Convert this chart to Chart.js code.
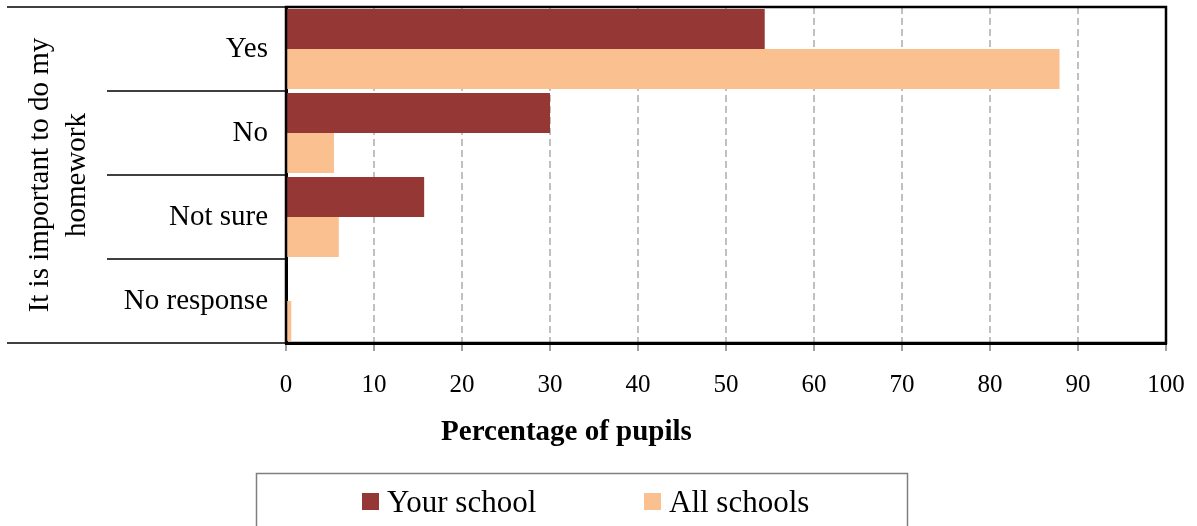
<!DOCTYPE html>
<html>
<head>
<meta charset="utf-8">
<script src="https://cdn.jsdelivr.net/npm/chart.js@4.4.1/dist/chart.umd.min.js"></script>
<style>
  html, body { margin: 0; padding: 0; background: #fff; }
  #wrap { width: 1197px; height: 526px; position: relative; }
</style>
</head>
<body>
<div id="wrap"><canvas id="chart"></canvas></div>
<script>
const categories = ["Yes", "No", "Not sure", "No response"];
const yourSchool = [54.4, 30.0, 15.7, 0];
const allSchools = [87.9, 5.45, 6.0, 0.6];
const xTicks = [0, 10, 20, 30, 40, 50, 60, 70, 80, 90, 100];
const yTitle = ["It is important to do my", "homework"];
const xTitle = "Percentage of pupils";

const SERIF = "'Liberation Serif', 'Times New Roman', serif";

// left-hand category dividers, frame around the plot, x title, boxed legend
const decorations = {
    id: "decorations",
    afterDatasetsDraw(chart) {
        const ctx = chart.ctx;
        const area = chart.chartArea;
        const y = chart.scales.y;
        const n = categories.length;

        ctx.save();
        ctx.strokeStyle = "#000";
        ctx.lineWidth = 1.5;
        for (let i = 0; i <= n; i++) {
            let py;
            if (i === 0) py = area.top;
            else if (i === n) py = area.bottom;
            else py = (y.getPixelForValue(i - 1) + y.getPixelForValue(i)) / 2;
            const x0 = (i === 0 || i === n) ? 7 : 107;
            ctx.beginPath();
            ctx.moveTo(x0, py);
            ctx.lineTo(area.left, py);
            ctx.stroke();
        }

        ctx.lineWidth = 2.5;
        ctx.strokeRect(area.left, area.top, area.right - area.left, area.bottom - area.top);
        ctx.restore();
    },
    afterDraw(chart) {
        const ctx = chart.ctx;
        ctx.save();

        // axis title sits left of the axis centre, like the original
        ctx.fillStyle = "#000";
        ctx.font = "bold 29px " + SERIF;
        ctx.textAlign = "center";
        ctx.textBaseline = "alphabetic";
        ctx.fillText(xTitle, 566.5, 440);

        ctx.strokeStyle = "#7f7f7f";
        ctx.lineWidth = 1.5;
        ctx.strokeRect(256.5, 473.5, 651, 80);

        const itemX = [362, 644];
        ctx.font = "31px " + SERIF;
        ctx.textAlign = "left";
        chart.data.datasets.forEach((ds, i) => {
            ctx.fillStyle = ds.backgroundColor;
            ctx.fillRect(itemX[i], 493, 17, 17);
            ctx.fillStyle = "#000";
            ctx.fillText(ds.label, itemX[i] + 25, 512);
        });
        ctx.restore();
    }
};

document.addEventListener("DOMContentLoaded", () => {
    const ctx = document.getElementById("chart").getContext("2d");
    new Chart(ctx, {
        type: "bar",
        data: {
            labels: categories,
            datasets: [
                {
                    label: "Your school",
                    data: yourSchool,
                    backgroundColor: "#953735",
                    borderWidth: 0,
                    barPercentage: 1,
                    categoryPercentage: 0.952
                },
                {
                    label: "All schools",
                    data: allSchools,
                    backgroundColor: "#FAC090",
                    borderWidth: 0,
                    barPercentage: 1,
                    categoryPercentage: 0.952
                }
            ]
        },
        options: {
            indexAxis: "y",
            responsive: true,
            maintainAspectRatio: false,
            animation: false,
            layout: { padding: { top: 7, right: 31, left: 0, bottom: 0 } },
            plugins: {
                tooltip: { enabled: false },
                legend: { display: false }
            },
            scales: {
                x: {
                    min: 0,
                    max: 100,
                    afterBuildTicks: scale => {
                        scale.ticks = xTicks.map(v => ({ value: v }));
                    },
                    afterFit: scale => {
                        scale.height = 183;
                        scale.paddingLeft = 0;
                        scale.paddingRight = 0;
                    },
                    ticks: {
                        color: "#000",
                        font: { family: SERIF, size: 25 },
                        padding: 19,
                        maxRotation: 0
                    },
                    grid: {
                        color: "#c0c0c0",
                        lineWidth: 2,
                        tickLength: 8,
                        tickColor: "#808080",
                        tickWidth: 1.5,
                        tickBorderDash: []
                    },
                    border: { display: true, color: "#000", width: 3, dash: [7, 4] }
                },
                y: {
                    afterFit: scale => {
                        scale.width = 286;
                        scale.paddingTop = 0;
                        scale.paddingBottom = 0;
                    },
                    ticks: {
                        color: "#000",
                        font: { family: SERIF, size: 29 },
                        padding: 18
                    },
                    grid: { display: false, drawTicks: false },
                    border: { display: true, color: "#000", width: 3 },
                    title: {
                        display: true,
                        text: yTitle,
                        color: "#000",
                        font: { family: SERIF, size: 29, lineHeight: 1.28 },
                        padding: { top: 22, bottom: 0 }
                    }
                }
            }
        },
        plugins: [decorations]
    });
});
</script>
</body>
</html>
